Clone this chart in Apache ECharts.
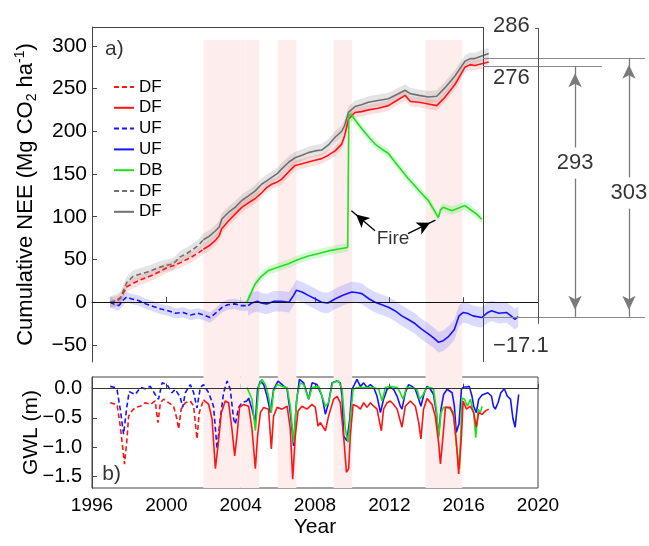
<!DOCTYPE html>
<html><head><meta charset="utf-8">
<script src="https://cdn.jsdelivr.net/npm/echarts@6/dist/echarts.min.js"></script>
<style>html,body{margin:0;padding:0;background:#fff}#c{width:649px;height:546px}</style>
</head><body><div id="c"></div>
<script>
const FONT = 'Arial, "Liberation Sans", sans-serif';

// ---------- Panel a) cumulative NEE [year, Mg CO2 ha-1] ----------
const NEE_DF_RED_DASH = [[1996.97,0],[1997.3,1],[1997.5,4],[1997.75,13],[1997.87,18],[1998.2,22],[1998.6,26],[1998.95,29],[1999.3,32],[1999.65,36],[2000.0,40],[2000.4,43],[2000.74,46],[2001.1,50],[2001.45,54],[2001.75,58],[2001.99,62]];
const NEE_DF_RED = [[2001.99,62],[2002.3,66],[2002.62,72],[2002.85,78],[2002.98,86],[2003.34,95],[2003.7,103],[2004.06,111],[2004.4,116],[2004.77,121],[2005.13,128],[2005.4,134],[2005.67,138],[2006.0,141],[2006.21,144],[2006.6,153],[2006.93,160],[2007.3,162],[2007.64,164],[2008.0,166],[2008.36,168],[2008.72,172],[2009.08,177],[2009.44,185],[2009.6,195],[2009.8,214],[2010.15,222],[2010.5,223],[2010.87,225],[2011.4,227],[2011.95,230],[2012.4,236],[2012.85,242],[2013.12,235],[2013.6,234],[2014.1,232],[2014.55,230],[2015.0,240],[2015.54,255],[2016.07,275],[2016.35,278],[2016.61,277],[2016.97,279],[2017.35,281]];
const NEE_UF_DASH = [[1996.97,0],[1997.25,-3],[1997.45,-4],[1997.7,3],[1997.87,6],[1998.1,4],[1998.5,2],[1998.9,-2],[1999.3,-5],[1999.7,-8],[2000.1,-10],[2000.5,-13],[2000.9,-12],[2001.3,-15],[2001.7,-13],[2002.0,-15],[2002.35,-18],[2002.7,-12],[2003.0,-6],[2003.3,-3],[2003.7,-2],[2004.0,-4],[2004.4,-4]];
const NEE_UF = [[2004.4,-4],[2004.6,-1],[2004.9,1],[2005.1,-1],[2005.4,-2],[2005.8,1],[2006.2,1],[2006.6,0],[2006.85,8],[2007.0,14],[2007.3,12],[2007.64,8],[2008.0,4],[2008.36,0],[2008.7,-1],[2009.1,4],[2009.5,8],[2009.98,12],[2010.3,11],[2010.52,10],[2010.9,4],[2011.23,0],[2011.6,-3],[2011.95,-6],[2012.3,-10],[2012.67,-16],[2013.0,-20],[2013.38,-25],[2013.7,-31],[2014.1,-37],[2014.4,-42],[2014.65,-47],[2014.9,-45],[2015.2,-40],[2015.5,-32],[2015.75,-16],[2015.98,-12],[2016.2,-13],[2016.5,-16],[2016.97,-18],[2017.3,-12],[2017.5,-10],[2017.9,-13],[2018.3,-12],[2018.6,-17],[2018.75,-20],[2018.94,-17]];
const NEE_DB = [[2004.33,0],[2004.5,8],[2004.77,21],[2005.1,30],[2005.49,37],[2006.0,41],[2006.57,45],[2007.1,50],[2007.64,54],[2008.2,57],[2008.72,60],[2009.2,62],[2009.76,64],[2009.82,218],[2009.94,220],[2010.2,212],[2010.52,203],[2010.9,193],[2011.23,185],[2011.6,179],[2011.95,174],[2012.3,164],[2012.67,154],[2013.0,145],[2013.38,136],[2013.7,128],[2014.1,119],[2014.4,108],[2014.64,99],[2014.75,108],[2014.9,111],[2015.36,107],[2015.7,110],[2016.07,113],[2016.44,107],[2016.7,103],[2016.97,97]];
const NEE_DF_GRAY_DASH = [[1996.97,0],[1997.3,2],[1997.55,6],[1997.75,17],[1997.87,23],[1998.2,30],[1998.6,33],[1998.94,35],[1999.3,38],[1999.66,41],[2000.0,43],[2000.38,45],[2000.74,53],[2001.1,57],[2001.45,62],[2001.75,67],[2001.99,73]];
const NEE_DF_GRAY = [[2001.99,73],[2002.3,77],[2002.62,83],[2002.85,88],[2002.98,97],[2003.34,105],[2003.7,111],[2004.06,119],[2004.4,124],[2004.77,130],[2005.13,138],[2005.4,142],[2005.67,146],[2006.0,151],[2006.21,156],[2006.6,164],[2006.93,169],[2007.3,172],[2007.64,175],[2008.0,177],[2008.36,178],[2008.72,184],[2009.08,193],[2009.44,200],[2009.6,207],[2009.8,222],[2010.15,229],[2010.5,231],[2010.87,234],[2011.4,236],[2011.95,238],[2012.4,243],[2012.85,248],[2013.12,244],[2013.6,242],[2014.1,240],[2014.55,241],[2015.0,251],[2015.54,265],[2016.07,282],[2016.35,285],[2016.61,285],[2016.97,288],[2017.35,291]];

// uncertainty half-widths (Mg CO2 ha-1)
const UNC = {red: 6, gray: 7, ufDash: 6, uf: 12, db: 5};

// ---------- Panel b) groundwater level [year, m] ----------
const GWL_DF_DASH = [[1996.98,-0.24],[1997.2,-0.26],[1997.35,-0.27],[1997.52,-0.64],[1997.65,-1.0],[1997.75,-1.29],[1997.88,-0.87],[1997.97,-0.47],[1998.15,-0.38],[1998.33,-0.32],[1998.6,-0.30],[1998.87,-0.24],[1999.14,-0.27],[1999.4,-0.21],[1999.55,-0.58],[1999.68,-0.24],[1999.85,-0.18],[2000.12,-0.24],[2000.39,-0.30],[2000.57,-0.52],[2000.66,-0.69],[2000.8,-0.35],[2001.02,-0.24],[2001.29,-0.21],[2001.47,-0.30],[2001.65,-0.86],[2001.77,-0.41],[2002.0,-0.19]];
const GWL_DF = [[2002.0,-0.19],[2002.28,-0.27],[2002.46,-0.52],[2002.64,-1.37],[2002.78,-0.98],[2002.96,-0.41],[2003.17,-0.21],[2003.35,-0.24],[2003.53,-0.69],[2003.68,-1.15],[2003.8,-0.81],[2003.94,-0.32],[2004.16,-0.27],[2004.43,-0.30],[2004.61,-0.69],[2004.79,-1.37],[2004.91,-0.81],[2005.06,-0.41],[2005.24,-0.32],[2005.5,-0.35],[2005.65,-1.03],[2005.77,-0.47],[2005.96,-0.32],[2006.23,-0.35],[2006.5,-0.30],[2006.67,-0.69],[2006.8,-1.55],[2006.94,-0.81],[2007.09,-0.38],[2007.3,-0.30],[2007.57,-0.35],[2007.84,-0.27],[2008.02,-0.32],[2008.16,-0.64],[2008.29,-0.58],[2008.56,-0.72],[2008.73,-0.47],[2009.0,-0.18],[2009.19,-0.13],[2009.36,-0.24],[2009.54,-0.81],[2009.69,-1.43],[2009.81,-1.37],[2009.9,-0.81],[2010.05,-0.27],[2010.26,-0.30],[2010.44,-0.35],[2010.62,-0.24],[2010.8,-0.32],[2010.98,-0.24],[2011.16,-0.30],[2011.34,-0.35],[2011.48,-0.58],[2011.57,-0.72],[2011.69,-0.35],[2011.88,-0.24],[2012.05,-0.21],[2012.23,-0.27],[2012.42,-0.35],[2012.56,-0.52],[2012.68,-0.66],[2012.86,-0.30],[2013.13,-0.21],[2013.4,-0.30],[2013.58,-0.58],[2013.7,-0.86],[2013.84,-0.35],[2014.03,-0.17],[2014.3,-0.27],[2014.47,-0.47],[2014.65,-0.92],[2014.75,-1.29],[2014.89,-0.81],[2015.02,-0.32],[2015.28,-0.32],[2015.46,-0.47],[2015.61,-0.92],[2015.73,-1.46],[2015.88,-0.81],[2015.97,-0.21],[2016.15,-0.35],[2016.36,-0.30],[2016.54,-0.41],[2016.68,-0.66],[2016.81,-0.41],[2016.99,-0.44],[2017.17,-0.38],[2017.35,-0.35]];
const GWL_UF_DASH = [[1996.98,0.04],[1997.25,0.02],[1997.35,-0.02],[1997.52,-0.35],[1997.7,-0.78],[1997.88,-0.30],[1998.0,-0.05],[1998.33,-0.10],[1998.6,0.02],[1998.87,0.0],[1999.14,0.04],[1999.4,-0.10],[1999.58,-0.18],[1999.77,0.10],[2000.04,0.07],[2000.3,-0.07],[2000.48,-0.01],[2000.75,-0.15],[2000.88,-0.32],[2001.02,-0.07],[2001.29,0.07],[2001.47,-0.07],[2001.65,-0.33],[2001.83,0.02],[2002.0,0.07],[2002.28,-0.07],[2002.54,-0.30],[2002.73,-1.03],[2002.9,-0.52],[2003.08,-0.07],[2003.27,0.13],[2003.44,-0.01],[2003.62,-0.52],[2003.71,-0.61],[2003.89,-0.32],[2004.07,-0.24],[2004.34,-0.21]];
const GWL_UF = [[2004.34,-0.21],[2004.43,-0.16],[2004.61,-0.35],[2004.79,-0.58],[2004.91,-0.01],[2005.06,0.13],[2005.24,0.07],[2005.42,-0.13],[2005.6,-0.41],[2005.77,-0.01],[2006.01,0.13],[2006.23,0.07],[2006.5,-0.01],[2006.67,-0.41],[2006.85,-0.98],[2007.0,-0.24],[2007.16,0.16],[2007.39,0.10],[2007.66,-0.18],[2007.84,0.10],[2008.11,0.07],[2008.38,-0.13],[2008.56,-0.44],[2008.73,-0.24],[2008.92,0.10],[2009.19,0.13],[2009.36,0.10],[2009.46,-0.13],[2009.54,-0.81],[2009.72,-0.89],[2009.87,-0.52],[2009.99,-0.01],[2010.12,0.07],[2010.26,0.16],[2010.44,0.04],[2010.62,0.10],[2010.8,0.02],[2010.98,0.07],[2011.16,0.02],[2011.34,-0.13],[2011.52,-0.41],[2011.69,-0.18],[2011.88,-0.01],[2012.05,0.02],[2012.23,-0.01],[2012.42,-0.13],[2012.59,-0.30],[2012.68,-0.35],[2012.86,-0.07],[2013.04,0.07],[2013.22,0.04],[2013.4,-0.01],[2013.58,-0.18],[2013.7,-0.30],[2013.88,-0.07],[2014.03,0.04],[2014.21,-0.01],[2014.38,-0.10],[2014.53,-0.41],[2014.65,-0.81],[2014.78,-0.35],[2014.92,-0.10],[2015.11,-0.01],[2015.19,-0.01],[2015.38,-0.07],[2015.5,-0.30],[2015.6,-0.75],[2015.75,-0.60],[2015.88,-0.01],[2016.0,0.03],[2016.15,0.03],[2016.3,0.04],[2016.45,-0.13],[2016.54,-0.30],[2016.68,-0.41],[2016.81,-0.18],[2016.99,-0.11],[2017.3,-0.07],[2017.5,-0.13],[2017.6,-0.30],[2017.7,-0.35],[2017.85,-0.24],[2018.0,-0.07],[2018.19,0.0],[2018.35,-0.13],[2018.52,-0.18],[2018.65,-0.51],[2018.77,-0.66],[2018.87,-0.35],[2018.96,-0.10]];
const GWL_DB = [[2004.34,0.02],[2004.61,-0.18],[2004.79,-0.72],[2004.97,0.04],[2005.15,0.16],[2005.33,0.07],[2005.5,-0.13],[2005.65,-0.41],[2005.77,-0.04],[2005.96,0.07],[2006.23,0.04],[2006.5,0.02],[2006.67,-0.30],[2006.85,-0.92],[2007.03,-0.13],[2007.21,0.10],[2007.39,0.07],[2007.66,-0.18],[2007.84,0.02],[2008.2,0.04],[2008.38,-0.13],[2008.56,-0.30],[2008.73,-0.24],[2008.95,0.10],[2009.27,0.13],[2009.46,-0.01],[2009.63,-0.69],[2009.78,-0.92],[2009.9,-0.52],[2010.05,-0.01],[2010.26,0.02],[2010.62,0.02],[2011.16,0.02],[2011.43,-0.01],[2011.61,-0.21],[2011.79,0.02],[2012.05,0.04],[2012.42,0.02],[2012.59,-0.07],[2012.74,-0.18],[2012.92,0.02],[2013.13,0.02],[2013.49,-0.01],[2013.63,-0.18],[2013.76,-0.13],[2014.03,0.02],[2014.21,0.02],[2014.38,-0.01],[2014.53,-0.35],[2014.65,-0.84],[2014.78,-0.41],[2014.92,-0.32],[2015.11,-0.32],[2015.28,-0.35],[2015.46,-0.41],[2015.61,-0.98],[2015.78,-1.37],[2015.91,-0.16],[2016.05,-0.18],[2016.2,-0.30],[2016.36,-0.18],[2016.54,-0.41],[2016.65,-0.84],[2016.78,-0.35],[2016.9,-0.41],[2016.99,-0.30]];

// shaded periods [start, end] (year)
const PERIODS = [[2002,2004],[2004,2005],[2006,2007],[2009,2010],[2013.95,2015.92]];

// tick values
const X_TICKS = [1996,2000,2004,2008,2012,2016,2020];
const NEE_TICKS = [-50,0,50,100,150,200,250,300];
const GWL_TICKS = [-1.5,-1.0,-0.5,0.0];

// legend
const LEGEND_KEYS = ['rd','r','bd','b','g','gd','gr'];
const LEGEND_TEXT = {rd:'DF', r:'DF', bd:'UF', b:'UF', g:'DB', gd:'DF', gr:'DF'};

// annotation values
const END_GRAY = 286, END_RED = 276, END_UF = -17.1;
const DIFF_RED = '293', DIFF_GRAY = '303';

const C = {red:'#ff1414', blue:'#1414ff', green:'#1fe01f', gray:'#707070'};
const minus = s => String(s).replace('-', '\u2212');

function band(data, half, color) {
  return {
    type: 'custom', xAxisIndex: 0, yAxisIndex: 0, z: 1, silent: true,
    data: data, encode: {x: 0, y: 1},
    renderItem: function (params, api) {
      if (params.dataIndex !== 0) return null;
      const up = data.map(d => api.coord([d[0], d[1] + half]));
      const lo = data.map(d => api.coord([d[0], d[1] - half])).reverse();
      return {type: 'polygon', shape: {points: up.concat(lo)}, style: {fill: color}};
    }
  };
}
function line(name, data, color, dashed, xi) {
  return {
    name: name, type: 'line', xAxisIndex: xi, yAxisIndex: xi, data: data,
    symbol: 'none', z: 3, silent: true,
    lineStyle: {color: color, width: 1.6, type: dashed ? [5, 3] : 'solid'},
    itemStyle: {color: color}
  };
}
const textStyle = (size) => ({fontFamily: FONT, fontSize: size, color: '#000'});
function labelPt(x, y, text, size, align) {
  return {value: [x, y], label: {show: true, formatter: text, position: 'inside', align: align || 'center', verticalAlign: 'middle', ...textStyle(size)}};
}

const chart = echarts.init(document.getElementById('c'));
const AX = '#444';

const option = {
  animation: false,
  backgroundColor: '#fff',
  textStyle: {fontFamily: FONT},
  grid: [
    {left: 92, top: 27, width: 446, height: 335, outerBoundsMode: 'none'},
    {left: 92, top: 377, width: 446, height: 111, show: true, borderColor: AX, borderWidth: 1, outerBoundsMode: 'none'},
    {left: 92, top: 40, width: 446, height: 448, outerBoundsMode: 'none'},
    {left: 92, top: 0, width: 553, height: 362, outerBoundsMode: 'none'}
  ],
  legend: {
    data: LEGEND_KEYS, orient: 'vertical', left: 108, top: 73.5,
    itemWidth: 20, itemHeight: 12, itemGap: 3.8, selectedMode: false,
    itemStyle: {opacity: 0},
    formatter: k => LEGEND_TEXT[k],
    textStyle: {fontFamily: FONT, fontSize: 17, color: '#000', lineHeight: 14, padding: [0, 0, 0, 0]}
  },
  xAxis: [
    {gridIndex: 0, type: 'value', min: 1996, max: 2020, interval: 4,
      axisLine: {show: true, lineStyle: {color: AX}}, axisTick: {show: true, inside: true, length: 5, lineStyle: {color: AX}},
      axisLabel: {show: false}, splitLine: {show: false}},
    {gridIndex: 1, type: 'value', min: 1996, max: 2020, interval: 4,
      axisLine: {show: true, lineStyle: {color: AX}}, axisTick: {show: true, inside: true, length: 5, lineStyle: {color: AX}},
      axisLabel: {show: true, margin: 8, formatter: v => String(v), ...textStyle(19)}, splitLine: {show: false},
      name: 'Year', nameLocation: 'middle', nameGap: 29, nameMoveOverlap: false, nameTextStyle: textStyle(21)},
    {gridIndex: 2, type: 'value', min: 1996, max: 2020, show: false},
    {gridIndex: 3, type: 'value', min: 1996, max: 2025.764, show: false}
  ],
  yAxis: [
    {gridIndex: 0, type: 'value', min: -70, max: 322,
      axisLine: {show: true, lineStyle: {color: AX}},
      axisTick: {show: true, inside: true, length: 5, customValues: NEE_TICKS, lineStyle: {color: AX}},
      axisLabel: {show: true, customValues: NEE_TICKS, margin: 5, formatter: v => minus(v), ...textStyle(21)},
      splitLine: {show: false},
      name: '{n|Cumulative NEE (Mg CO}{sub|2}{n| ha}{sup|-1}{n|)}', nameLocation: 'middle', nameGap: 53, nameRotate: 90, nameMoveOverlap: false,
      nameTextStyle: {rich: {
        n: {fontFamily: FONT, fontSize: 22, lineHeight: 26, color: '#000'},
        sub: {fontFamily: FONT, fontSize: 14, lineHeight: 14, color: '#000', verticalAlign: 'bottom'},
        sup: {fontFamily: FONT, fontSize: 14, lineHeight: 14, color: '#000', verticalAlign: 'top'}
      }}},
    {gridIndex: 1, type: 'value', min: -1.7, max: 0.2,
      axisLine: {show: true, lineStyle: {color: AX}},
      axisTick: {show: true, inside: true, length: 5, customValues: GWL_TICKS, lineStyle: {color: AX}},
      axisLabel: {show: true, customValues: GWL_TICKS, margin: 10, formatter: v => minus(v.toFixed(1)), ...textStyle(20)},
      splitLine: {show: false},
      name: 'GWL (m)', nameLocation: 'middle', nameGap: 50, nameRotate: 90, nameMoveOverlap: false, nameTextStyle: textStyle(21)},
    {gridIndex: 2, type: 'value', min: 0, max: 1, show: false},
    {gridIndex: 3, type: 'value', min: -70, max: 353.6, show: false}
  ],
  series: [
    // shaded periods spanning both panels
    {type: 'line', xAxisIndex: 2, yAxisIndex: 2, data: [[1996, 0]], symbol: 'none', lineStyle: {opacity: 0}, z: 0, silent: true,
      markArea: {silent: true, itemStyle: {color: '#fdeded'}, data: PERIODS.map(p => [{xAxis: p[0]}, {xAxis: p[1]}])}},
    // uncertainty bands
    band(NEE_UF_DASH, UNC.ufDash, 'rgba(90,90,255,0.22)'),
    band(NEE_UF, UNC.uf, 'rgba(90,90,255,0.22)'),
    band(NEE_DB, UNC.db, 'rgba(60,230,60,0.22)'),
    band(NEE_DF_RED_DASH, UNC.red, 'rgba(255,80,80,0.18)'),
    band(NEE_DF_RED, UNC.red, 'rgba(255,80,80,0.18)'),
    band(NEE_DF_GRAY_DASH, UNC.gray, 'rgba(120,120,120,0.2)'),
    band(NEE_DF_GRAY, UNC.gray, 'rgba(120,120,120,0.2)'),
    // NEE lines
    line('rd', NEE_DF_RED_DASH, C.red, true, 0),
    line('r', NEE_DF_RED, C.red, false, 0),
    line('bd', NEE_UF_DASH, C.blue, true, 0),
    line('b', NEE_UF, C.blue, false, 0),
    line('g', NEE_DB, C.green, false, 0),
    line('gd', NEE_DF_GRAY_DASH, C.gray, true, 0),
    line('gr', NEE_DF_GRAY, C.gray, false, 0),
    // panel a frame pieces, zero line and Fire arrows
    {type: 'line', xAxisIndex: 0, yAxisIndex: 0, data: [[2000, 0]], symbol: 'none', lineStyle: {opacity: 0}, z: 4, silent: true,
      markLine: {silent: true, symbol: 'none', label: {show: false}, lineStyle: {color: '#111', width: 1, type: 'solid'},
        data: [
          {yAxis: 0},
          [{coord: [1996, 322], lineStyle: {color: AX}}, {coord: [2017.05, 322]}],
          [{coord: [2017.05, 322], lineStyle: {color: AX}}, {coord: [2017.05, -70]}]
        ]}},
    {type: 'line', xAxisIndex: 0, yAxisIndex: 0, data: [[2000, 0]], symbol: 'none', lineStyle: {opacity: 0}, z: 5, silent: true,
      markLine: {silent: true, symbol: ['none', 'arrow'], symbolSize: [10, 13], symbolOffset: [[0, 0], [0, 6]], label: {show: false},
        lineStyle: {color: '#000', width: 1.3, type: 'solid'},
        data: [
          [{coord: [2011.23, 83.7]}, {coord: [2009.96, 107]}],
          [{coord: [2013.0, 80.2]}, {coord: [2014.48, 96]}]
        ]}},
    {type: 'scatter', xAxisIndex: 0, yAxisIndex: 0, symbolSize: 1, itemStyle: {color: 'rgba(0,0,0,0)'}, z: 6, silent: true,
      data: [labelPt(1996.7, 296.6, 'a)', 21, 'left'), labelPt(2012.2, 74, 'Fire', 19)]},
    // GWL lines
    line('gwl_rd', GWL_DF_DASH, C.red, true, 1),
    line('gwl_bd', GWL_UF_DASH, C.blue, true, 1),
    line('gwl_b', GWL_UF, C.blue, false, 1),
    line('gwl_g', GWL_DB, C.green, false, 1),
    line('gwl_r', GWL_DF, C.red, false, 1),
    {type: 'line', xAxisIndex: 1, yAxisIndex: 1, data: [[2000, 0]], symbol: 'none', lineStyle: {opacity: 0}, z: 4, silent: true,
      markLine: {silent: true, symbol: 'none', label: {show: false}, lineStyle: {color: '#333', width: 1, type: 'solid'}, data: [{yAxis: 0}]}},
    {type: 'scatter', xAxisIndex: 1, yAxisIndex: 1, symbolSize: 1, itemStyle: {color: 'rgba(0,0,0,0)'}, z: 6, silent: true,
      data: [labelPt(1996.55, -1.46, 'b)', 21, 'left')]},
    // right-hand annotations
    {type: 'line', xAxisIndex: 3, yAxisIndex: 3, data: [[2000, 0]], symbol: 'none', lineStyle: {opacity: 0}, z: 4, silent: true,
      markLine: {silent: true, symbol: 'none', label: {show: false}, lineStyle: {color: '#8a8a8a', width: 1, type: 'solid'},
        data: [
          [{coord: [2017.05, END_GRAY]}, {coord: [2025.76, END_GRAY]}],
          [{coord: [2017.05, END_RED]}, {coord: [2023.45, END_RED]}],
          [{coord: [2017.05, END_UF]}, {coord: [2025.76, END_UF]}],
          [{coord: [2020, 320.8], lineStyle: {color: '#555'}}, {coord: [2020, -25.3]}],
          [{coord: [2019.85, 320.8], lineStyle: {color: '#555'}}, {coord: [2020, 320.8]}]
        ]}},
    {type: 'line', xAxisIndex: 3, yAxisIndex: 3, data: [[2000, 0]], symbol: 'none', lineStyle: {opacity: 0}, z: 5, silent: true,
      markLine: {silent: true, symbolSize: [10, 14], label: {show: false}, lineStyle: {color: '#7a7a7a', width: 1.3, type: 'solid'},
        data: [
          [{coord: [2022.0, END_RED], symbol: 'arrow', symbolOffset: [0, 7]}, {coord: [2022.0, 181], symbol: 'none'}],
          [{coord: [2022.0, 144.6], symbol: 'none'}, {coord: [2022.0, END_UF], symbol: 'arrow', symbolOffset: [0, 7]}],
          [{coord: [2024.9, END_GRAY], symbol: 'arrow', symbolOffset: [0, 7]}, {coord: [2024.9, 146], symbol: 'none'}],
          [{coord: [2024.9, 109.5], symbol: 'none'}, {coord: [2024.9, END_UF], symbol: 'arrow', symbolOffset: [0, 7]}]
        ]}},
    {type: 'scatter', xAxisIndex: 3, yAxisIndex: 3, symbolSize: 1, itemStyle: {color: 'rgba(0,0,0,0)'}, z: 6, silent: true,
      data: [
        labelPt(2017.58, 323.5, String(END_GRAY), 22, 'left'),
        labelPt(2017.58, 262.8, String(END_RED), 22, 'left'),
        labelPt(2017.58, -51, minus(END_UF), 22, 'left'),
        labelPt(2022.0, 163.3, DIFF_RED, 22),
        labelPt(2024.9, 128.2, DIFF_GRAY, 22)
      ]}
  ]
};
chart.setOption(option);
</script></body></html>
